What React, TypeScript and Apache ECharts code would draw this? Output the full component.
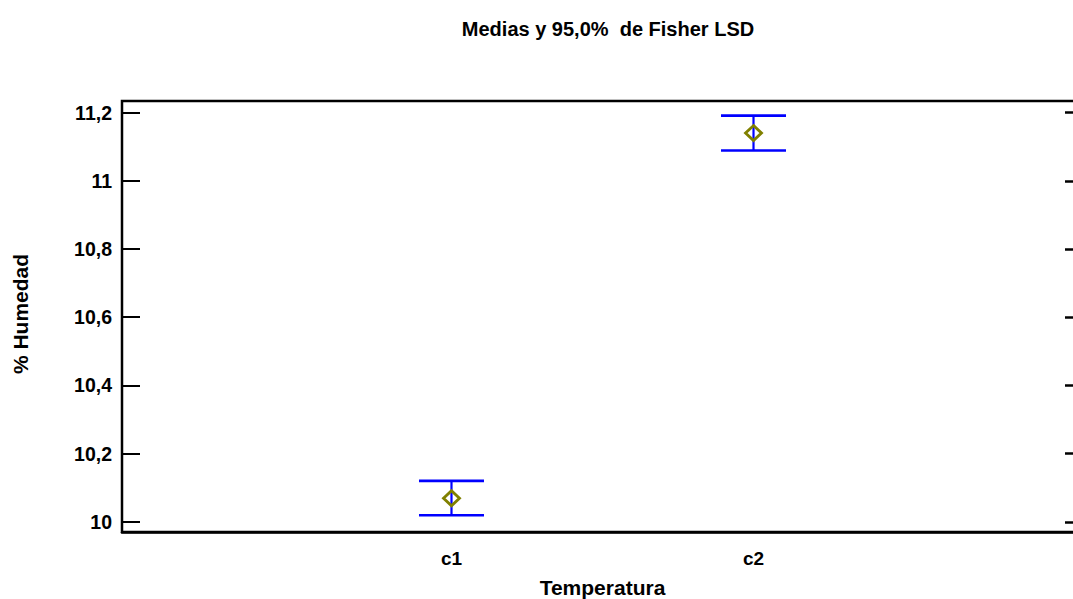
import React, { useEffect, useRef } from "react";
import * as echarts from "echarts";

const categories = ["c1", "c2"];
const means = [10.069, 11.14];
const lower = [10.019, 11.089];
const upper = [10.12, 11.191];
const yTicks = [10, 10.2, 10.4, 10.6, 10.8, 11, 11.2];
const titleText = "Medias y 95,0%  de Fisher LSD";
const xName = "Temperatura";
const yName = "% Humedad";

const FONT = "'Liberation Sans', Arial, sans-serif";

export default function App() {
  const ref = useRef<HTMLDivElement>(null);
  useEffect(() => {
    const chart = echarts.init(ref.current!, null, { renderer: "svg" });
    const fmt = (v: number) => String(Math.round(v * 10) / 10).replace(".", ",");
    const pos = categories.map((_, i) => i + 1);
    chart.setOption({
      animation: false,
      backgroundColor: "#fff",
      title: {
        text: titleText,
        left: 603,
        top: 14,
        textAlign: "center",
        textStyle: { fontFamily: FONT, fontWeight: "bold", fontSize: 20, color: "#000" },
      },
      grid: {
        left: 122,
        top: 101,
        width: 961,
        height: 431,
        outerBoundsMode: "none",
        containLabel: false,
        show: true,
        borderColor: "#000",
        borderWidth: 2.5,
        backgroundColor: "transparent",
      },
      xAxis: {
        type: "value",
        min: -0.091,
        max: 3.091,
        splitLine: { show: false },
        axisLine: { show: true, onZero: false, lineStyle: { color: "#000", width: 2.5 } },
        axisTick: { show: false },
        axisLabel: {
          customValues: pos,
          formatter: (v: number) => categories[Math.round(v) - 1] ?? "",
          margin: 17,
          fontFamily: FONT,
          fontWeight: "bold",
          fontSize: 19,
          color: "#000",
        },
        name: xName,
        nameLocation: "middle",
        nameGap: 45,
        nameTextStyle: { fontFamily: FONT, fontWeight: "bold", fontSize: 21, color: "#000" },
      },
      yAxis: [
        {
          type: "value",
          min: 9.97,
          max: 11.234,
          position: "left",
          splitLine: { show: false },
          axisLine: { show: true, onZero: false, lineStyle: { color: "#000", width: 2 } },
          axisTick: {
            show: true,
            inside: true,
            length: 18,
            customValues: yTicks,
            lineStyle: { color: "#000", width: 2 },
          },
          axisLabel: {
            customValues: yTicks,
            formatter: fmt,
            margin: 10,
            fontFamily: FONT,
            fontWeight: "bold",
            fontSize: 19.5,
            color: "#000",
          },
        },
        {
          type: "value",
          min: 9.97,
          max: 11.234,
          position: "right",
          splitLine: { show: false },
          axisLine: { show: true, onZero: false, lineStyle: { color: "#000", width: 2 } },
          axisTick: {
            show: true,
            inside: true,
            length: 18,
            customValues: yTicks,
            lineStyle: { color: "#000", width: 2.5 },
          },
          axisLabel: { show: false },
        },
      ],
      graphic: [
        {
          type: "text",
          x: 20,
          y: 314,
          rotation: Math.PI / 2,
          style: {
            text: yName,
            fontFamily: FONT,
            fontWeight: "bold",
            fontSize: 21,
            fill: "#000",
            textAlign: "center",
            textVerticalAlign: "middle",
          },
        },
      ],
      series: [
        {
          type: "custom",
          data: pos.map((p, i) => [p, lower[i], upper[i]]),
          renderItem: (params: any, api: any) => {
            const x = api.value(0);
            const lo = api.coord([x, api.value(1)]);
            const hi = api.coord([x, api.value(2)]);
            const hw = 32.5;
            const st = { stroke: "#0000ff", lineWidth: 2.6 };
            return {
              type: "group",
              children: [
                { type: "line", shape: { x1: lo[0], y1: lo[1], x2: hi[0], y2: hi[1] }, style: { stroke: "#0000ff", lineWidth: 2.2 } },
                { type: "line", shape: { x1: lo[0] - hw, y1: lo[1], x2: lo[0] + hw, y2: lo[1] }, style: st },
                { type: "line", shape: { x1: hi[0] - hw, y1: hi[1], x2: hi[0] + hw, y2: hi[1] }, style: st },
              ],
            };
          },
          z: 2,
        },
        {
          type: "scatter",
          data: pos.map((p, i) => [p, means[i]]),
          symbol: "diamond",
          symbolSize: [16, 15],
          itemStyle: { color: "rgba(0,0,0,0)", borderColor: "#808000", borderWidth: 2.8, opacity: 1 },
          z: 3,
        },
      ],
    });
    return () => chart.dispose();
  }, []);
  return (
    <div
      ref={ref}
      style={{ position: "fixed", left: 0, top: 0, width: 1073, height: 599 }}
    />
  );
}
